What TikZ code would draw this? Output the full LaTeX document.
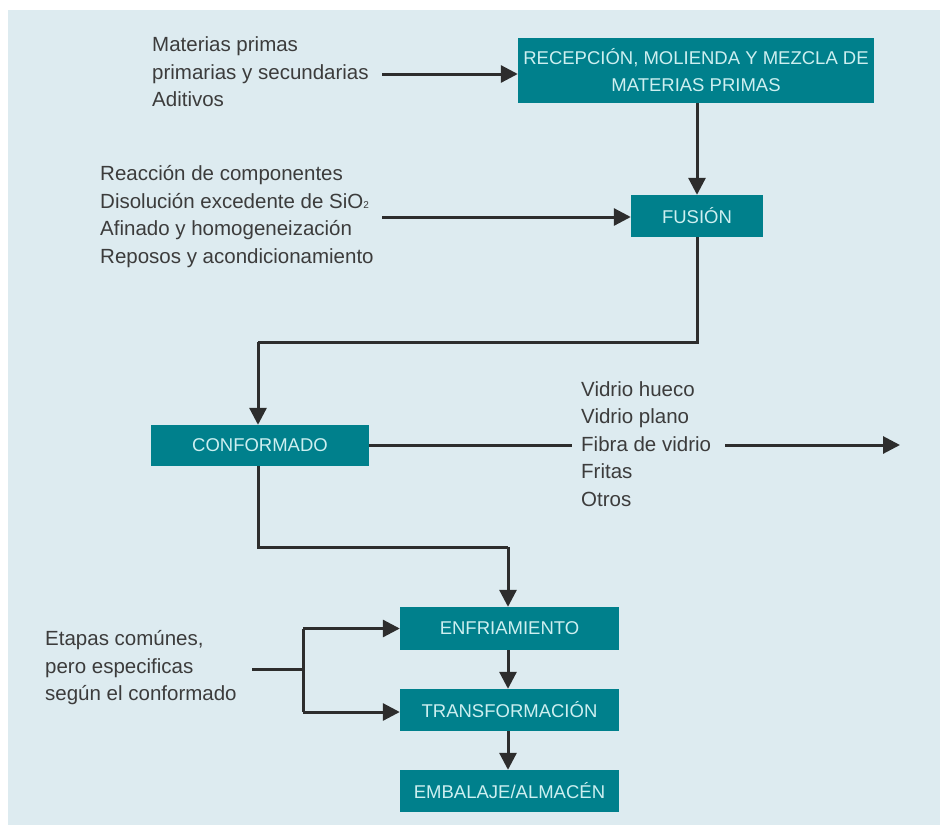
\documentclass[tikz,border=0pt]{standalone}
\usepackage{fontspec}
\setmainfont{Liberation Sans}
\usetikzlibrary{arrows.meta}
\definecolor{bgblue}{RGB}{221,235,240}
\definecolor{teal}{RGB}{0,128,140}
\definecolor{boxtext}{RGB}{205,239,240}
\definecolor{linegray}{RGB}{45,45,45}
\definecolor{txtgray}{RGB}{60,60,60}
\tikzset{
  stepbox/.style={rectangle, fill=teal, text=boxtext, inner sep=0pt, align=center,
    font=\fontsize{18.5}{27}\selectfont},
  lbl/.style={inner sep=0pt, align=left, anchor=west, text=txtgray,
    font=\fontsize{20.5}{27.5}\selectfont},
  conn/.style={draw=linegray, line width=3pt},
  arr/.style={conn, -{Triangle[length=17pt,width=17pt]}},
}
\begin{document}
\begin{tikzpicture}[x=1pt,y=-1pt]
\useasboundingbox (0,0) rectangle (940,825);
\fill[white] (0,0) rectangle (940,825);
\fill[bgblue] (8,10) rectangle (940,825);

% boxes
\node[stepbox, minimum width=356pt, minimum height=65pt] (rec) at (696,70.5)
  {RECEPCIÓN, MOLIENDA Y MEZCLA DE\\MATERIAS PRIMAS};
\node[stepbox, minimum width=132pt, minimum height=42pt] (fus) at (697,216) {FUSIÓN};
\node[stepbox, minimum width=218pt, minimum height=41pt] (conf) at (260,445.5) {CONFORMADO};
\node[stepbox, minimum width=219pt, minimum height=43pt] (enf) at (509.5,628.5) {ENFRIAMIENTO};
\node[stepbox, minimum width=219pt, minimum height=42pt] (trans) at (509.5,710) {TRANSFORMACIÓN};
\node[stepbox, minimum width=219pt, minimum height=42pt] (emb) at (509.5,791) {EMBALAJE/ALMACÉN};

% labels
\node[lbl] (t1) at (152,72) {Materias primas\\primarias y secundarias\\Aditivos};
\node[lbl] (t2) at (100,216.5) {Reacción de componentes\\Disolución excedente de SiO{\fontsize{10}{10}\selectfont 2}\\Afinado y homogeneización\\Reposos y acondicionamiento};
\node[lbl] (t3) at (581,444) {Vidrio hueco\\Vidrio plano\\Fibra de vidrio\\Fritas\\Otros};
\node[lbl] (t4) at (45,668) {Etapas comúnes,\\pero especificas\\según el conformado};

% coordinates
\coordinate (a1) at (382,74);
\coordinate (a2) at (382,217);
\coordinate (c1) at (697,342);
\coordinate (c2) at (258,342);
\coordinate (d1) at (572,445);
\coordinate (d2) at (725,445);
\coordinate (d3) at (900,445);
\coordinate (e1) at (258,547);
\coordinate (e2) at (508,547);
\coordinate (f0) at (252,669);
\coordinate (f1) at (303,669);
\coordinate (f2) at (303,628.5);
\coordinate (f3) at (303,712);

% connectors
\draw[arr] (a1) -- (a1 -| rec.west);
\draw[arr] (rec.south -| fus.north) -- (fus.north);
\draw[arr] (a2) -- (a2 -| fus.west);
\draw[conn] (fus.south) -- (c1) -- (c2);
\draw[arr] (c2) -- (c2 |- conf.north);
\draw[conn] (d1 -| conf.east) -- (d1);
\draw[arr] (d2) -- (d3);
\draw[conn] (conf.south -| e1) -- (e1) -- (e2);
\draw[arr] (e2) -- (e2 |- enf.north);
\draw[arr] (enf.south -| e2) -- (e2 |- trans.north);
\draw[arr] (trans.south -| e2) -- (e2 |- emb.north);
\draw[conn] (f0) -- (f1);
\draw[conn] (f2) -- (f3);
\draw[arr] (f2) -- (f2 -| enf.west);
\draw[arr] (f3) -- (f3 -| trans.west);
\end{tikzpicture}
\end{document}
